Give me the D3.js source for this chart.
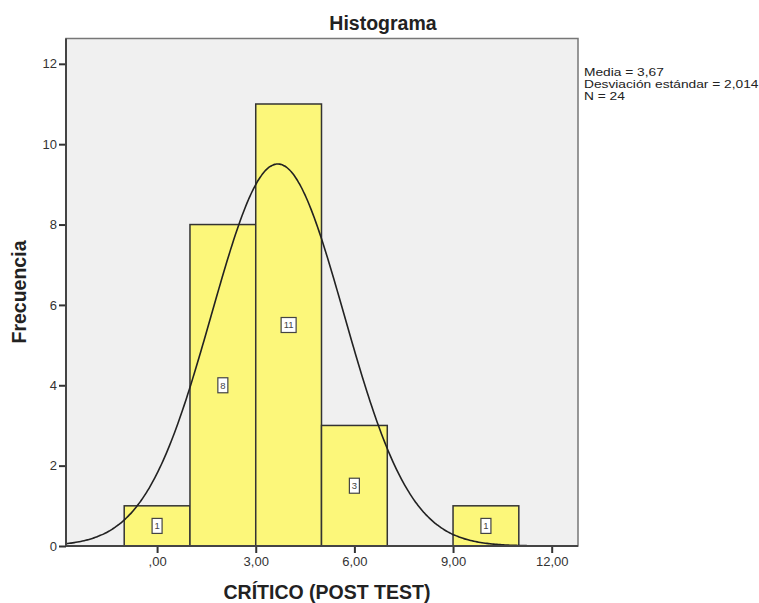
<!DOCTYPE html>
<html><head><meta charset="utf-8">
<script src="https://cdn.jsdelivr.net/npm/d3@7"></script>
<style>body{margin:0;background:#fff}svg{display:block}text{font-family:"Liberation Sans",Arial,sans-serif}</style>
</head><body><svg id="c" width="759" height="603"></svg>
<script>
const binStarts = [-1, 1, 3, 5, 9];
const binWidth = 2;
const counts = [1, 8, 11, 3, 1];
const yTicks = [0, 2, 4, 6, 8, 10, 12];
const xTicks = [0, 3, 6, 9, 12];
const xTickLabels = [",00", "3,00", "6,00", "9,00", "12,00"];
const mean = 3.67, sd = 2.014, n = 24;
const statLines = ["Media = 3,67", "Desviación estándar = 2,014", "N = 24"];

const svg = d3.select("#c");
const L = 66, R = 578, T = 38.5, B = 546;
const x = d3.scaleLinear().domain([-2.77, 12.8]).range([L, R]);
const y = d3.scaleLinear().domain([0, 12.63]).range([B, T]);

svg.append("rect").attr("x", L).attr("y", T).attr("width", R - L).attr("height", B - T)
  .attr("fill", "#f0f0f0").attr("stroke", "#777").attr("stroke-width", 1.5);

const g = svg.append("g");
g.selectAll("rect.bar").data(counts).enter().append("rect").attr("class", "bar")
  .attr("x", (d, i) => x(binStarts[i])).attr("y", d => y(d))
  .attr("width", (d, i) => x(binStarts[i] + binWidth) - x(binStarts[i]))
  .attr("height", d => B - y(d))
  .attr("fill", "#fcf77a").attr("stroke", "#333").attr("stroke-width", 1.5);

// normal curve
const pts = d3.range(-2.77, 12.8001, 0.05).map(v => [v, n * binWidth / (sd * Math.sqrt(2 * Math.PI)) * Math.exp(-0.5 * ((v - mean) / sd) ** 2)]);
svg.append("path").attr("d", d3.line().x(d => x(d[0])).y(d => y(d[1])).curve(d3.curveBasis)(pts))
  .attr("fill", "none").attr("stroke", "#222").attr("stroke-width", 1.6);

// count labels
counts.forEach((c, i) => {
  const cx = x(binStarts[i] + binWidth / 2), cy = y(c / 2);
  const w = String(c).length > 1 ? 15 : 10;
  svg.append("rect").attr("x", cx - w / 2).attr("y", cy - 7.5).attr("width", w).attr("height", 15)
    .attr("fill", "#fff").attr("stroke", "#444").attr("stroke-width", 1.2);
  svg.append("text").attr("x", cx).attr("y", cy + 3.5).attr("text-anchor", "middle")
    .attr("font-size", 9.5).attr("fill", "#444").text(c);
});

// axes
const yAxis = d3.axisLeft(y).tickValues(yTicks).tickSize(7).tickPadding(2).tickFormat(d3.format("d"));
const ya = svg.append("g").attr("transform", `translate(${L},0)`).call(yAxis);
const xAxis = d3.axisBottom(x).tickValues(xTicks).tickSize(7).tickPadding(4).tickFormat((d, i) => xTickLabels[i]);
const xa = svg.append("g").attr("transform", `translate(0,${B})`).call(xAxis);
[ya, xa].forEach(a => {
  a.select(".domain").remove();
  a.selectAll("line").attr("stroke", "#333").attr("stroke-width", 2);
  a.selectAll("text").attr("font-size", 13).attr("fill", "#333").attr("font-family", "'Liberation Sans',Arial,sans-serif");
});
svg.append("line").attr("x1", L).attr("x2", L).attr("y1", T).attr("y2", B).attr("stroke", "#444").attr("stroke-width", 2);
svg.append("line").attr("x1", L).attr("x2", R).attr("y1", B).attr("y2", B).attr("stroke", "#444").attr("stroke-width", 2);

// titles
svg.append("text").attr("x", 383).attr("y", 30).attr("text-anchor", "middle")
  .attr("font-size", 19.5).attr("font-weight", "bold").attr("fill", "#222").text("Histograma");
svg.append("text").attr("x", 327).attr("y", 599).attr("text-anchor", "middle")
  .attr("font-size", 19.5).attr("font-weight", "bold").attr("fill", "#222").text("CRÍTICO (POST TEST)");
svg.append("text").attr("transform", "translate(26,292) rotate(-90)").attr("text-anchor", "middle")
  .attr("font-size", 19.5).attr("font-weight", "bold").attr("fill", "#222").text("Frecuencia");

const st = svg.append("g").attr("transform", "translate(584,0) scale(1.25,1)");
statLines.forEach((s, i) => st.append("text").attr("x", 0).attr("y", 76 + i * 12)
  .attr("font-size", 11).attr("fill", "#222").text(s));
</script></body></html>
